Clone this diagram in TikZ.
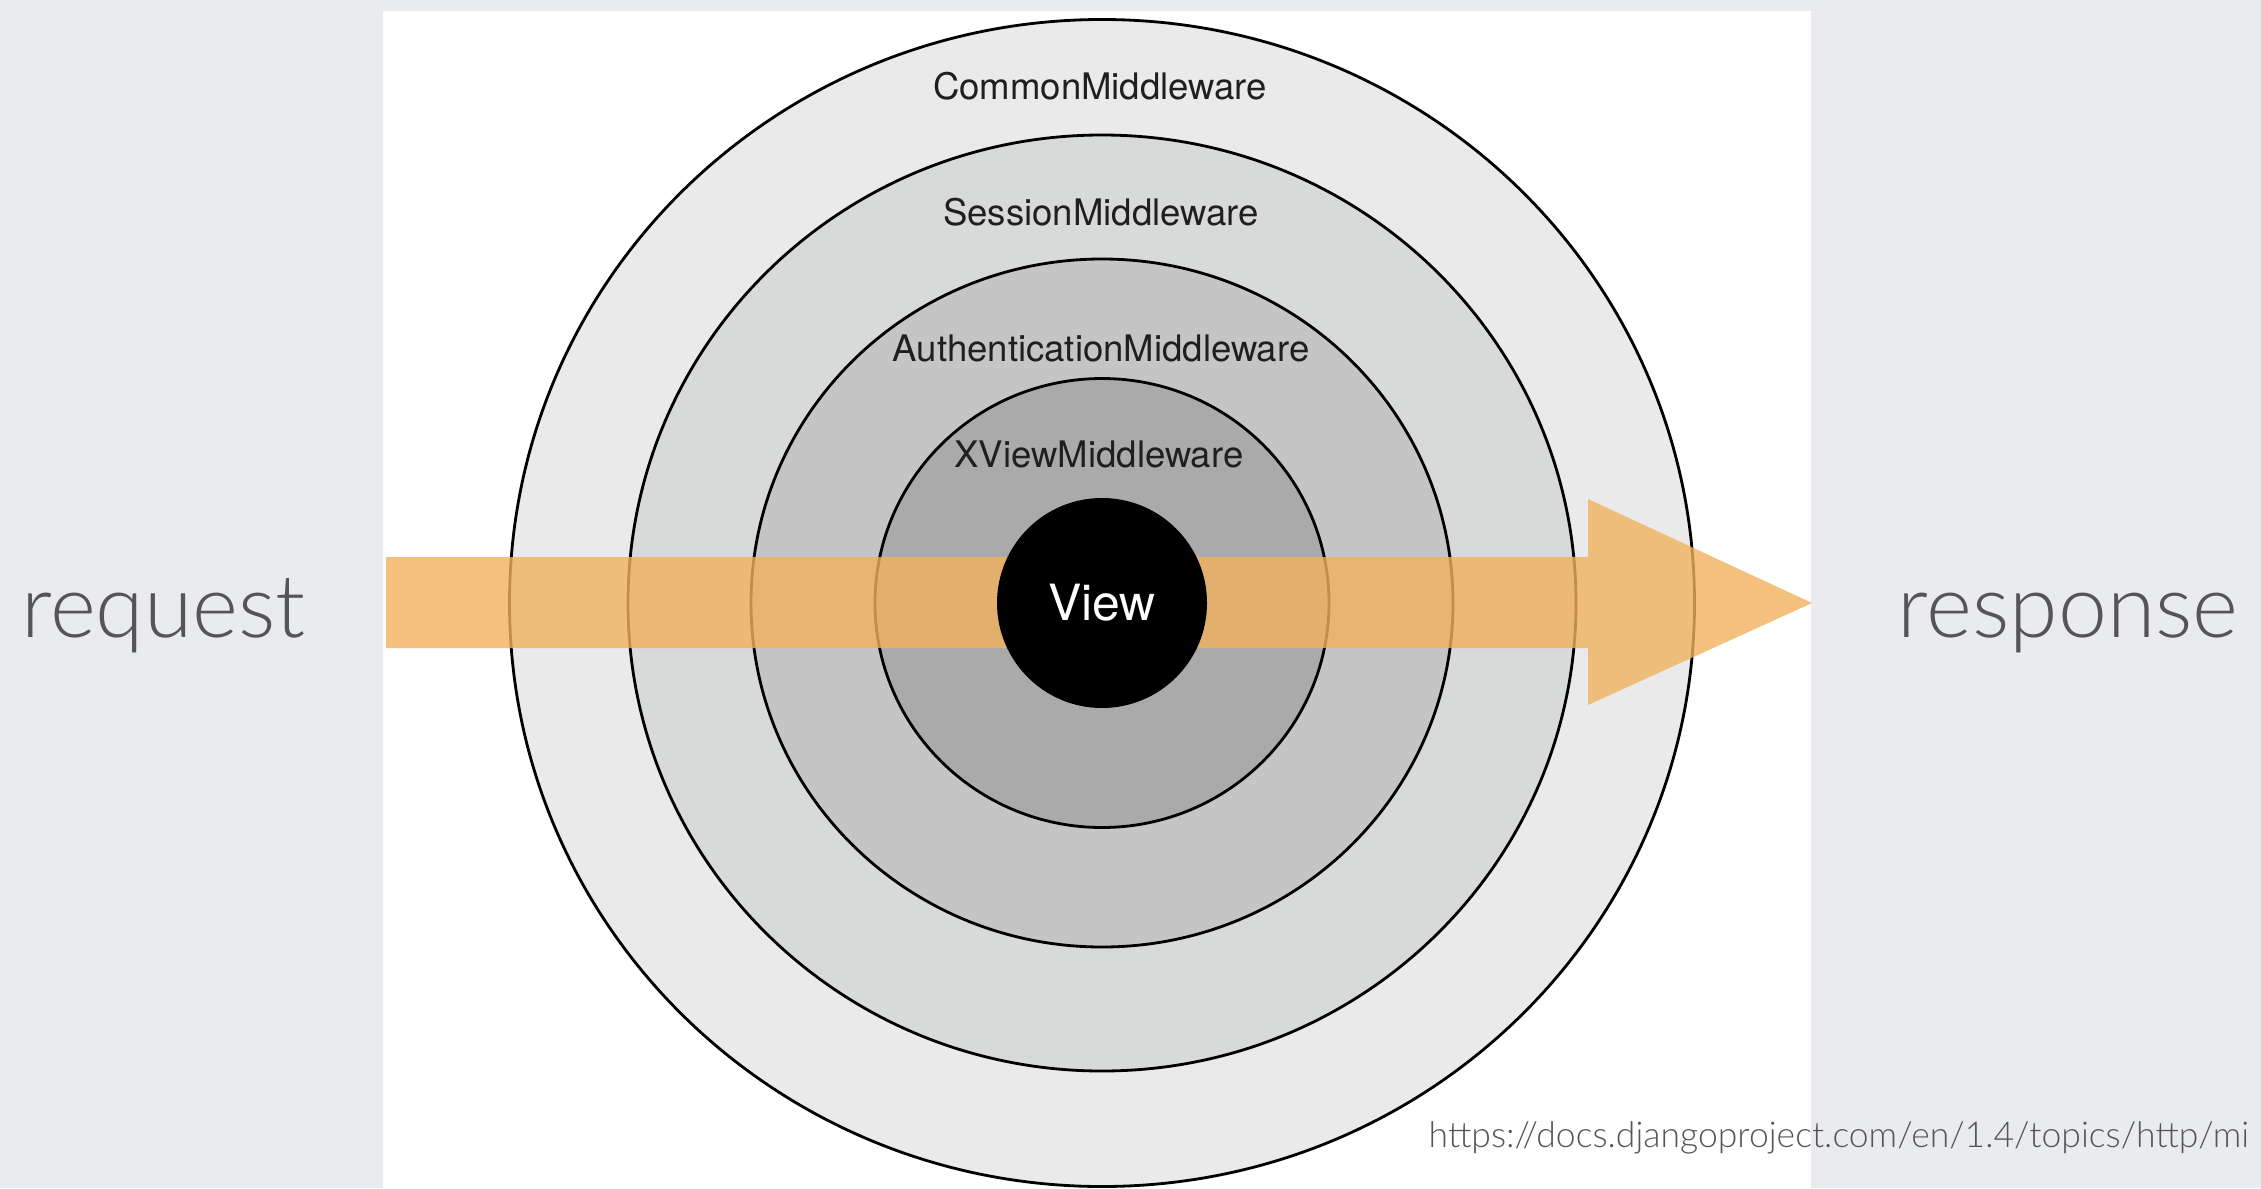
\documentclass[tikz,border=0pt]{standalone}
\usepackage{fontspec}
\setmainfont{TeX Gyre Heros}
\newfontfamily\slidefont{Lato Light}
\definecolor{slidebg}{HTML}{E9EBEE}
\definecolor{ringa}{HTML}{EAEAEA}
\definecolor{ringb}{HTML}{D8D9D9}
\definecolor{ringc}{HTML}{C5C5C5}
\definecolor{ringd}{HTML}{AAAAAA}
\definecolor{flow}{RGB}{240,178,93}
\definecolor{slidetext}{HTML}{555555}
\begin{document}
\begin{tikzpicture}[
  every node/.append style={inner sep=0pt},
  ring/.style={draw=black, line width=0.8pt},
  layer/.style={font=\fontsize{10.4}{12}\selectfont, text=black!88, anchor=base},
  side/.style={font=\slidefont\fontsize{25}{29}\selectfont, text=slidetext, anchor=base}
]
\useasboundingbox (0,0) rectangle (22.61,11.88);
\fill [slidebg] (0,0) rectangle (22.61,11.88);
\fill [white] (3.83,0) rectangle (18.11,11.77);
% rings, outside in
\draw [ring, fill=ringa] (11.02,5.85) ellipse [x radius=5.925, y radius=5.835];
\draw [ring, fill=ringb] (11.02,5.85) ellipse [x radius=4.74, y radius=4.68];
\draw [ring, fill=ringc] (11.02,5.85) ellipse [x radius=3.51, y radius=3.44];
\draw [ring, fill=ringd] (11.02,5.85) ellipse [x radius=2.27, y radius=2.245];
\node [layer] (common) at (11.00,10.89) {CommonMiddleware};
\node [layer] (session) at (11.01,9.63) {SessionMiddleware};
\node [layer] (auth) at (11.01,8.27) {AuthenticationMiddleware};
\node [layer] (xview) at (10.99,7.21) {XViewMiddleware};
% request -> response
\fill [flow, opacity=0.8] (3.86,5.40) -- (15.88,5.40) -- (15.88,4.83) -- (18.12,5.85)
  -- (15.88,6.89) -- (15.88,6.31) -- (3.86,6.31) -- cycle;
\node [circle, fill=black, minimum size=2.1cm, text=white,
  font=\fontsize{14.2}{16}\selectfont] (view) at (11.02,5.85) {View};
\node [side] (request) at (1.635,5.51) {request};
\node [side] (response) at (20.68,5.51) {response};
\node [font=\slidefont\fontsize{10.1}{12}\selectfont, text=slidetext, anchor=base west]
  (source) at (14.28,0.41) {https://docs.djangoproject.com/en/1.4/topics/http/mi};
\end{tikzpicture}
\end{document}
